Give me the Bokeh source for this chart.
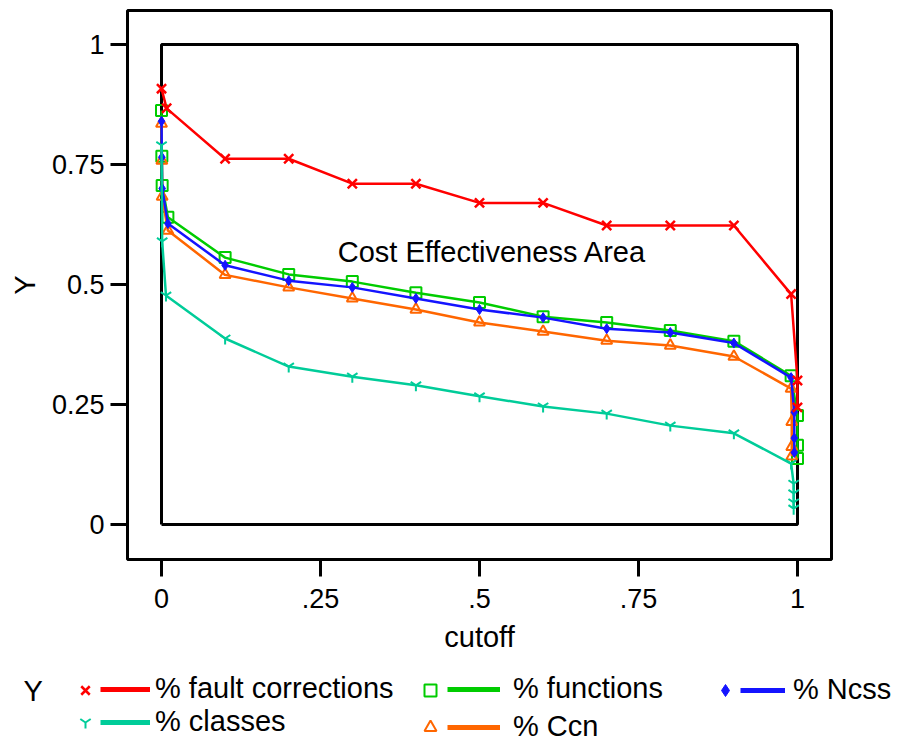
from bokeh.plotting import figure
from bokeh.layouts import column
from bokeh.models import Legend, LegendItem, FixedTicker, Label, Range1d
from bokeh.embed import file_html
from bokeh.resources import INLINE

# ---- data ----
x_fault = [0, 0.008, 0.1, 0.2, 0.3, 0.4, 0.5, 0.6, 0.7, 0.8, 0.9, 0.99, 1.0, 1.0]
y_fault = [0.908, 0.867, 0.762, 0.762, 0.71, 0.71, 0.67, 0.67, 0.623, 0.623, 0.623, 0.48, 0.30, 0.244]

x_func = [0, 0.0005, 0.001, 0.01, 0.1, 0.2, 0.3, 0.4, 0.5, 0.6, 0.7, 0.8, 0.9, 0.99, 1.0, 1.0, 1.0]
y_func = [0.8625, 0.767, 0.706, 0.64, 0.556, 0.521, 0.506, 0.483, 0.4625, 0.433, 0.421, 0.404, 0.382, 0.31, 0.227, 0.165, 0.1375]

x_ncss = [0, 0.0005, 0.001, 0.01, 0.1, 0.2, 0.3, 0.4, 0.5, 0.6, 0.7, 0.8, 0.9, 0.99, 0.995, 0.995, 0.995]
y_ncss = [0.84, 0.765, 0.70, 0.627, 0.54, 0.508, 0.494, 0.471, 0.448, 0.431, 0.408, 0.40, 0.378, 0.306, 0.234, 0.18, 0.15]

x_classes = [0, 0.001, 0.007, 0.1, 0.2, 0.3, 0.4, 0.5, 0.6, 0.7, 0.8, 0.9, 0.99, 0.994, 0.994, 0.994, 0.994]
y_classes = [0.79, 0.59, 0.477, 0.3875, 0.329, 0.308, 0.29, 0.267, 0.246, 0.231, 0.206, 0.19, 0.127, 0.085, 0.065, 0.046, 0.033]

x_ccn = [0, 0.0005, 0.001, 0.01, 0.1, 0.2, 0.3, 0.4, 0.5, 0.6, 0.7, 0.8, 0.9, 0.99, 0.991, 0.991, 0.991]
y_ccn = [0.835, 0.758, 0.683, 0.6125, 0.52, 0.494, 0.471, 0.448, 0.421, 0.402, 0.383, 0.373, 0.35, 0.283, 0.214, 0.162, 0.142]

area_x = [0, 1, 1, 0, 0]
area_y = [0, 0, 1, 1, 0]

x_ticks = [0, 0.25, 0.5, 0.75, 1]
x_tick_labels = ["0", ".25", ".5", ".75", "1"]
y_ticks = [0, 0.25, 0.5, 0.75, 1]
y_tick_labels = ["0", "0.25", "0.5", "0.75", "1"]

FONT = "Liberation Sans"
FS_TICK = "27px"
FS = "29px"

p = figure(width=895, height=663, x_range=(-0.0535, 1.0535), y_range=(-0.0729, 1.0708),
           output_backend="svg", toolbar_location=None,
           min_border_left=127, min_border_top=10, min_border_right=64, min_border_bottom=104,
           x_axis_label="cutoff", y_axis_label="Y")
p.frame_align = False
p.xgrid.visible = False
p.ygrid.visible = False
p.outline_line_color = "black"
p.outline_line_width = 3
p.background_fill_color = "white"
p.border_fill_color = "white"

for ax, ticks, labels in ((p.xaxis[0], x_ticks, x_tick_labels), (p.yaxis[0], y_ticks, y_tick_labels)):
    ax.ticker = FixedTicker(ticks=ticks)
    ax.major_label_overrides = {t: l for t, l in zip(ticks, labels)}
    ax.axis_line_color = None
    ax.major_tick_line_width = 3
    ax.major_tick_line_color = "black"
    ax.major_tick_out = 17
    ax.major_tick_in = 0
    ax.minor_tick_line_color = None
    ax.major_label_text_font = FONT
    ax.major_label_text_font_size = FS_TICK
    ax.major_label_text_color = "black"
    ax.axis_label_text_font = FONT
    ax.axis_label_text_font_size = FS
    ax.axis_label_text_font_style = "normal"
    ax.axis_label_text_color = "black"
p.xaxis.major_label_standoff = 12
p.xaxis.axis_label_standoff = 10
p.yaxis.major_label_standoff = 6
p.yaxis.axis_label_standoff = 8

# cost effectiveness area
p.line(area_x, area_y, line_color="black", line_width=3)
p.add_layout(Label(x=0.52, y=0.567, text="Cost Effectiveness Area", text_align="center",
                   text_baseline="middle", text_font=FONT, text_font_size=FS, text_color="black"))

series = [
    ("% functions", x_func, y_func, "#00cc00", dict(marker="square", size=11, fill_color=None, line_width=2)),
    ("% Ccn", x_ccn, y_ccn, "#ff6600", dict(marker="triangle", size=11, fill_color=None, line_width=2)),
    ("% Ncss", x_ncss, y_ncss, "#1414ff", dict(marker="diamond", size=10, line_width=1)),
    ("% classes", x_classes, y_classes, "#00cc99", dict(marker="y", size=12, line_width=2)),
    ("% fault corrections", x_fault, y_fault, "#ff0000", dict(marker="x", size=13, line_width=2.5)),
]

# legend strip below the plot (its renderers sit outside its visible ranges)
q = figure(width=895, height=80, output_backend="svg", toolbar_location=None,
           x_range=Range1d(5, 6), y_range=Range1d(5, 6),
           x_axis_location=None, y_axis_location=None,
           min_border_left=0, min_border_right=0, min_border_top=0, min_border_bottom=0)
q.frame_align = False
q.xgrid.visible = False
q.ygrid.visible = False
q.outline_line_color = None
q.background_fill_color = "white"
q.border_fill_color = "white"

line_r, mark_r = {}, {}
for name, xs, ys, col, mk in series:
    fill = mk.pop("fill_color", col)
    p.line(xs, ys, line_color=col, line_width=2.5)
    p.scatter(xs, ys, line_color=col, fill_color=fill, **mk)
    line_r[name] = q.line(xs, ys, line_color=col, line_width=5)
    mark_r[name] = q.scatter(xs, ys, line_color=col, fill_color=fill, **mk)

common = dict(orientation="vertical", label_text_font=FONT, label_text_font_size=FS,
              label_text_color="black", glyph_height=32, padding=0, margin=0,
              border_line_color=None, background_fill_alpha=0)

def add_column(names, mark_x, line_x, line_w, standoff, y, spacing):
    q.add_layout(Legend(items=[LegendItem(label=" ", renderers=[mark_r[n]]) for n in names],
                        location=(mark_x, y), glyph_width=30, label_standoff=0,
                        spacing=spacing, **common), "center")
    q.add_layout(Legend(items=[LegendItem(label=n, renderers=[line_r[n]]) for n in names],
                        location=(line_x, y), glyph_width=line_w, label_standoff=standoff,
                        spacing=spacing, **common), "center")

add_column(["% fault corrections", "% classes"], 70, 100, 50, 5, 5, 0)
add_column(["% functions", "% Ccn"], 415, 447, 53, 13, 0, 5)
add_column(["% Ncss"], 710, 740, 45, 8, 37, 0)

q.add_layout(Label(x=23, y=53, x_units="screen", y_units="screen", text="Y",
                   text_baseline="middle", text_font=FONT, text_font_size=FS, text_color="black"))

open("out.html", "w").write(file_html(column(p, q), INLINE))
